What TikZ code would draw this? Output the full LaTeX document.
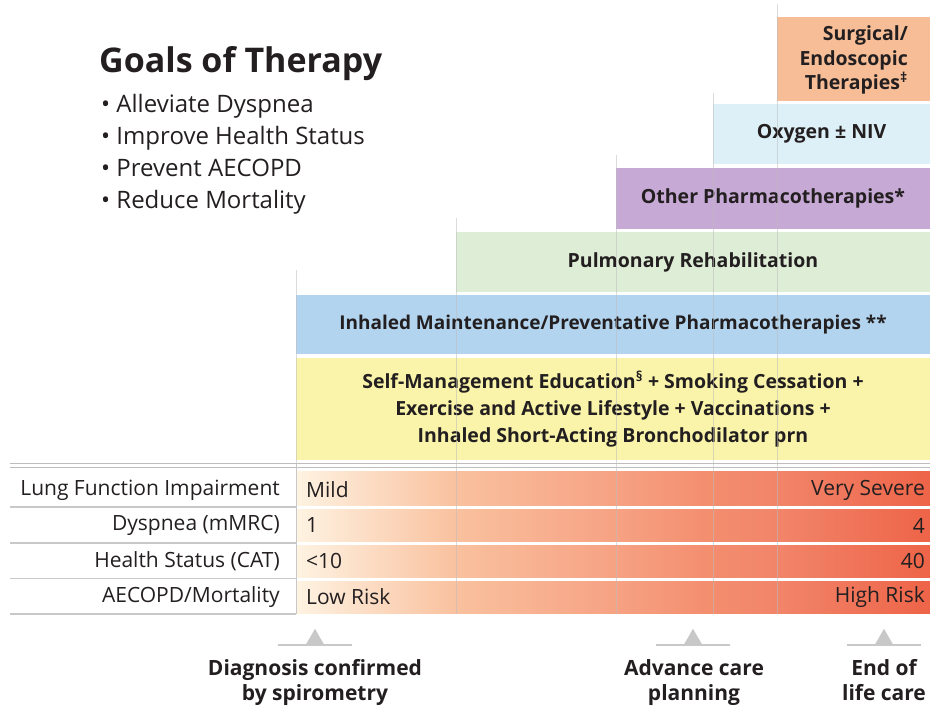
\documentclass[tikz,border=0pt]{standalone}
\usepackage{fontspec}
\setmainfont{Open Sans}
\usetikzlibrary{shapes.geometric}
\definecolor{surgc}{HTML}{F6BD96}
\definecolor{oxyc}{HTML}{DDF0F7}
\definecolor{purc}{HTML}{C6A9D5}
\definecolor{grnc}{HTML}{DEEDD6}
\definecolor{bluc}{HTML}{B2D4EE}
\definecolor{yelc}{HTML}{F9F4A9}
\definecolor{gA}{HTML}{FEF3E2}
\definecolor{gB}{HTML}{F9C19F}
\definecolor{gC}{HTML}{F6A283}
\definecolor{gD}{HTML}{F38D6E}
\definecolor{gE}{HTML}{F1856A}
\definecolor{gF}{HTML}{EE6448}
\definecolor{txt}{HTML}{231F20}
\definecolor{linec}{HTML}{BDBDBD}
\definecolor{tric}{HTML}{C8C8C8}
\begin{document}
\begin{tikzpicture}[x=1pt,y=-1pt,
  box/.style={draw=none,inner sep=0pt,text=txt,font=\fontsize{19.5}{23}\selectfont\bfseries},
  rowlab/.style={anchor=east,text=txt,inner sep=0pt,font=\fontsize{21}{24}\selectfont},
  val/.style={text=txt,inner sep=0pt,font=\fontsize{21}{24}\selectfont},
  goal/.style={anchor=base west,inner sep=0pt,text=txt,font=\fontsize{24}{30}\selectfont},
  vline/.style={draw=linec,line width=1pt,opacity=0.55},
  tri/.style={isosceles triangle,isosceles triangle apex angle=60,shape border rotate=90,fill=tric,draw=none,inner sep=0pt,minimum height=16pt,minimum width=18pt},
  milestone/.style={text=txt,align=center,inner sep=0pt,font=\fontsize{21}{25}\selectfont\bfseries},
  sepline/.style={draw=tric,line width=1.5pt}]
\useasboundingbox (0,0) rectangle (930,708);
% title
\node[anchor=base west,inner sep=0pt,text=txt,font=\fontsize{34}{40}\selectfont\bfseries] (title) at (99,73) {Goals of Therapy};
\node[goal] (g1) at (101,113) {\textbullet\ Alleviate Dyspnea};
\node[goal] (g2) at (101,145) {\textbullet\ Improve Health Status};
\node[goal] (g3) at (101,177) {\textbullet\ Prevent AECOPD};
\node[goal] (g4) at (101,209) {\textbullet\ Reduce Mortality};
% boxes
\node[box,fill=surgc,minimum width=153pt,minimum height=84pt] (surg) at (853.5,59) {};
\node[anchor=east,inner sep=0pt,text=txt,align=right,font=\fontsize{19.5}{24.5}\selectfont\bfseries] (surgtxt) at (908,60) {Surgical/\\Endoscopic\\Therapies\textsuperscript{\ddag}};
\node[box,fill=oxyc,minimum width=217pt,minimum height=60pt] (oxy) at (821.5,134) {Oxygen ± NIV};
\node[box,fill=purc,minimum width=314pt,minimum height=61pt] (other) at (773,198.5) {Other Pharmacotherapies*};
\node[box,fill=grnc,minimum width=474pt,minimum height=60pt] (pulm) at (693,262) {Pulmonary Rehabilitation};
\node[box,fill=bluc,minimum width=634pt,minimum height=59pt,font=\fontsize{19}{23}\selectfont\bfseries] (inh) at (613,324.5) {Inhaled Maintenance/Preventative Pharmacotherapies **};
\node[box,fill=yelc,minimum width=634pt,minimum height=102pt,align=center,font=\fontsize{19.5}{27}\selectfont\bfseries] (self) at (613,409)
 {Self-Management Education\textsuperscript{\S} + Smoking Cessation +\\Exercise and Active Lifestyle + Vaccinations +\\Inhaled Short-Acting Bronchodilator prn};
% severity gradient
\shade[left color=gA,right color=gB] (296,472) rectangle (456,614);
\shade[left color=gB,right color=gC] (456,472) rectangle (616,614);
\shade[left color=gC,right color=gD] (616,472) rectangle (713,614);
\shade[left color=gD,right color=gE] (713,472) rectangle (777,614);
\shade[left color=gE,right color=gF] (777,472) rectangle (930,614);
\foreach \yy in {508,544,580}{\fill[white] (296,\yy-1.8) rectangle (930,\yy+1.2);}
% vertical guide lines
\coordinate (v1t) at (296,270); \coordinate (v1b) at (296,614);
\coordinate (v2t) at (456,218); \coordinate (v2b) at (456,614);
\coordinate (v3t) at (616,155); \coordinate (v3b) at (616,614);
\coordinate (v4t) at (713,93);  \coordinate (v4b) at (713,614);
\coordinate (v5t) at (777,4);   \coordinate (v5b) at (777,614);
\draw[vline] (v1t) -- (v1b);
\draw[vline] (v2t) -- (v2b);
\draw[vline] (v3t) -- (v3b);
\draw[vline] (v4t) -- (v4b);
\draw[vline] (v5t) -- (v5b);
% table lines
\coordinate (hl) at (10,464); \coordinate (hr) at (930,464);
\draw[draw=linec,line width=1pt] (hl) -- (hr);
\draw[draw=linec,line width=1pt] (10,467.5) -- (930,467.5);
\draw[sepline] (10,507) -- (296,507);
\draw[sepline] (10,543) -- (296,543);
\draw[sepline] (10,578.5) -- (296,578.5);
\draw[sepline] (10,614) -- (296,614);
\draw[draw=tric,line width=1pt] (296,464) -- (296,614);
% row labels
\node[rowlab] (r1) at (280,490) {Lung Function Impairment};
\node[rowlab] (r2) at (280,525.5) {Dyspnea (mMRC)};
\node[rowlab] (r3) at (280,561) {Health Status (CAT)};
\node[rowlab] (r4) at (280,597) {AECOPD/Mortality};
\node[val,anchor=west] (l1) at (306,490) {Mild};
\node[val,anchor=west] (l2) at (306,525.5) {1};
\node[val,anchor=west] (l3) at (306,561) {<10};
\node[val,anchor=west] (l4) at (306,597) {Low Risk};
\node[val,anchor=east] (h1) at (925,490) {Very Severe};
\node[val,anchor=east] (h2) at (925,525.5) {4};
\node[val,anchor=east] (h3) at (925,561) {40};
\node[val,anchor=east] (h4) at (925,597) {High Risk};
% milestones
\node[tri,anchor=south] (t1) at (315,645) {};
\node[tri,anchor=south] (t2) at (693,645) {};
\node[tri,anchor=south] (t3) at (884,645) {};
\draw[sepline,line width=1.2pt] ([xshift=-37pt]t1.south) -- ([xshift=37pt]t1.south);
\draw[sepline,line width=1.2pt] ([xshift=-37pt]t2.south) -- ([xshift=37pt]t2.south);
\draw[sepline,line width=1.2pt] ([xshift=-37pt]t3.south) -- ([xshift=37pt]t3.south);
\node[milestone,anchor=base] (m1a) at (315,675) {Diagnosis confirmed};
\node[milestone,anchor=base] (m1b) at (315,700) {by spirometry};
\node[milestone,anchor=base] (m2a) at (694,675) {Advance care};
\node[milestone,anchor=base] (m2b) at (694,700) {planning};
\node[milestone,anchor=base] (m3a) at (884,675) {End of};
\node[milestone,anchor=base] (m3b) at (884,700) {life care};
\end{tikzpicture}
\end{document}
